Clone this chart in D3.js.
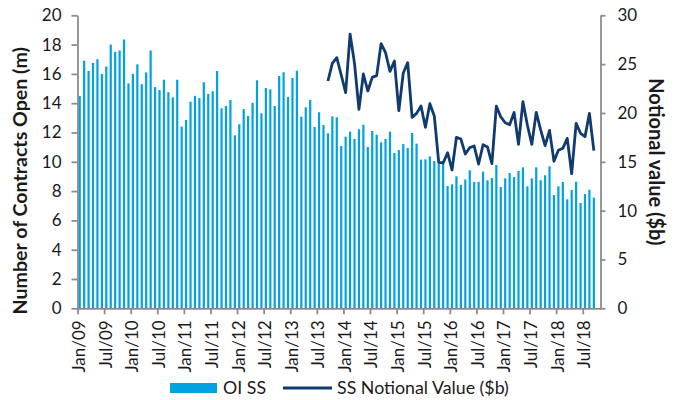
<!DOCTYPE html>
<html>
<head>
<meta charset="utf-8">
<script src="https://cdn.jsdelivr.net/npm/d3@7"></script>
<style>
  html, body { margin: 0; padding: 0; background: #ffffff; }
  svg { display: block; }
  text { font-family: Lato, "Open Sans", sans-serif; fill: #1a1a1a; }
</style>
</head>
<body>
<svg id="chart" width="676" height="400"></svg>
<script>
// ---- Data ----
const monthNames = ["Jan","Feb","Mar","Apr","May","Jun","Jul","Aug","Sep","Oct","Nov","Dec"];
const months = [];
for (let y = 2009; y <= 2018; y++) {
  for (let m = 0; m < 12; m++) {
    if (y === 2018 && m > 9) break;
    months.push(monthNames[m] + "/" + String(y).slice(2));
  }
}
// OI SS (m contracts), Jan/09 .. Sep/18 (Oct/18 empty)
const oiSS = [
  14.5, 16.9, 16.2, 16.75, 17.0, 16.0, 16.5, 18.0, 17.5, 17.6, 18.35, 15.35,
  16.0, 16.65, 15.3, 16.1, 17.6, 15.1, 14.9, 15.6, 14.75, 14.4, 15.6, 12.4,
  12.85, 14.1, 14.5, 14.35, 15.43, 14.63, 14.81, 16.2, 13.65, 13.81, 14.22, 11.81,
  12.56, 13.6, 13.13, 14.03, 15.56, 13.31, 15.04, 14.95, 13.81, 15.86, 16.11, 14.42,
  15.72, 16.22, 13.08, 13.72, 14.22, 12.38, 13.38, 12.51, 11.95, 13.1, 13.04, 11.08,
  11.71, 12.06, 11.56, 12.22, 12.53, 11.01, 12.1, 11.85, 11.33, 11.56, 12.06, 10.6,
  10.8, 11.21, 10.94, 11.97, 11.24, 10.15, 10.17, 10.37, 10.05, 9.9, 9.85, 8.35,
  8.46, 9.01, 8.42, 8.8, 9.42, 8.62, 8.64, 9.33, 8.74, 8.89, 9.78, 8.28,
  8.87, 9.24, 8.96, 9.37, 9.62, 8.33, 8.87, 9.62, 8.74, 9.08, 9.69, 7.73,
  8.33, 8.62, 7.44, 8.07, 8.64, 7.19, 7.8, 8.1, 7.55, null
];
// SS Notional Value ($b), starting Sep/13 (index 56)
const notionalStart = 56;
const notional = [
  23.27, 25.08, 25.66, 23.89, 22.08, 28.08, 25.08, 20.37, 23.99, 22.25, 23.65, 23.82,
  27.1, 26.17, 24.26, 25.32, 20.23, 24.09, 25.15, 19.55, 19.96, 20.71, 18.53, 20.95,
  19.69, 14.95, 14.88, 15.93, 14.16, 17.51, 17.33, 15.8, 16.45, 16.62, 14.77, 16.75,
  16.52, 14.81, 20.71, 19.59, 19.0, 18.8, 20.06, 16.79, 21.15, 18.77, 16.79, 20.06,
  18.26, 16.65, 18.22, 15.05, 16.18, 16.38, 17.4, 13.78, 18.94, 17.92, 17.57, 19.96,
  16.14
];
const leftTicks = [0, 2, 4, 6, 8, 10, 12, 14, 16, 18, 20];
const rightTicks = [0, 5, 10, 15, 20, 25, 30];
const seriesNames = ["OI SS", "SS Notional Value ($b)"];
const leftTitle = "Number of Contracts Open (m)";
const rightTitle = "Notional value ($b)";

// ---- Layout ----
const plotL = 77.5, plotR = 600.5, plotT = 15.3, plotB = 308.3;
const barColor = "#00a3e0", lineColor = "#0f3b6f", axisColor = "#8c8c8c";

const svg = d3.select("#chart");

const x = d3.scaleBand().domain(months).range([plotL, plotR]).paddingInner(0.5).paddingOuter(0.25);
const xi = d3.scaleLinear().domain([0, months.length]).range([plotL, plotR]);
const yL = d3.scaleLinear().domain([0, 20]).range([plotB, plotT]);
const yR = d3.scaleLinear().domain([0, 30]).range([plotB, plotT]);

// Bars
svg.append("g").selectAll("rect")
  .data(months.map((m, i) => ({ m, v: oiSS[i] })).filter(d => d.v != null))
  .join("rect")
  .attr("x", d => x(d.m))
  .attr("width", x.bandwidth())
  .attr("y", d => yL(d.v))
  .attr("height", d => yL(0) - yL(d.v))
  .attr("fill", barColor);

// Line
const lineData = notional.map((v, k) => ({ m: months[notionalStart + k], v }));
svg.append("path")
  .datum(lineData)
  .attr("fill", "none")
  .attr("stroke", lineColor)
  .attr("stroke-width", 2.8)
  .attr("stroke-linejoin", "round")
  .attr("d", d3.line().x(d => x(d.m) + x.bandwidth() / 2).y(d => yR(d.v)));

// Axes
function styleAxis(g) {
  g.selectAll("path.domain").attr("stroke", axisColor).attr("stroke-width", 1.8);
  g.selectAll(".tick line").attr("stroke", axisColor).attr("stroke-width", 1.8);
  g.selectAll(".tick text").style("font-size", "17px").attr("fill", "#1a1a1a");
}

const gx = svg.append("g").attr("transform", `translate(0,${plotB})`)
  .call(d3.axisBottom(xi)
    .tickValues(d3.range(0, months.length, 6))
    .tickFormat(i => months[i])
    .tickSize(6).tickSizeOuter(0));
styleAxis(gx);
gx.selectAll(".tick text")
  .attr("transform", "rotate(-90)")
  .attr("text-anchor", "end")
  .attr("x", -12)
  .attr("y", 1)
  .attr("dy", "0.35em");

const gl = svg.append("g").attr("transform", `translate(${plotL},0)`)
  .call(d3.axisLeft(yL).tickValues(leftTicks).tickSize(6).tickSizeOuter(0).tickPadding(10));
styleAxis(gl);

const gr = svg.append("g").attr("transform", `translate(${plotR},0)`)
  .call(d3.axisRight(yR).tickValues(rightTicks).tickSize(5).tickSizeOuter(0).tickPadding(12));
styleAxis(gr);

// Titles
svg.append("text")
  .attr("transform", `translate(20,${(plotT + plotB) / 2 + 19}) rotate(-90)`)
  .attr("text-anchor", "middle").attr("dy", "0.35em")
  .style("font-size", "19.6px").style("font-weight", "bold")
  .text(leftTitle);

svg.append("text")
  .attr("transform", `translate(656,${(plotT + plotB) / 2}) rotate(90)`)
  .attr("text-anchor", "middle").attr("dy", "0.35em")
  .style("font-size", "20px").style("font-weight", "bold")
  .text(rightTitle);

// Legend
const lg = svg.append("g");
lg.append("rect").attr("x", 170).attr("y", 383).attr("width", 47).attr("height", 10).attr("fill", barColor);
lg.append("text").attr("x", 223).attr("y", 388).attr("dy", "0.35em").style("font-size", "17.8px").text(seriesNames[0]);
lg.append("line").attr("x1", 283).attr("x2", 332).attr("y1", 388).attr("y2", 388)
  .attr("stroke", lineColor).attr("stroke-width", 2.8);
lg.append("text").attr("x", 337).attr("y", 388).attr("dy", "0.35em").style("font-size", "17.8px").text(seriesNames[1]);
</script>
</body>
</html>
